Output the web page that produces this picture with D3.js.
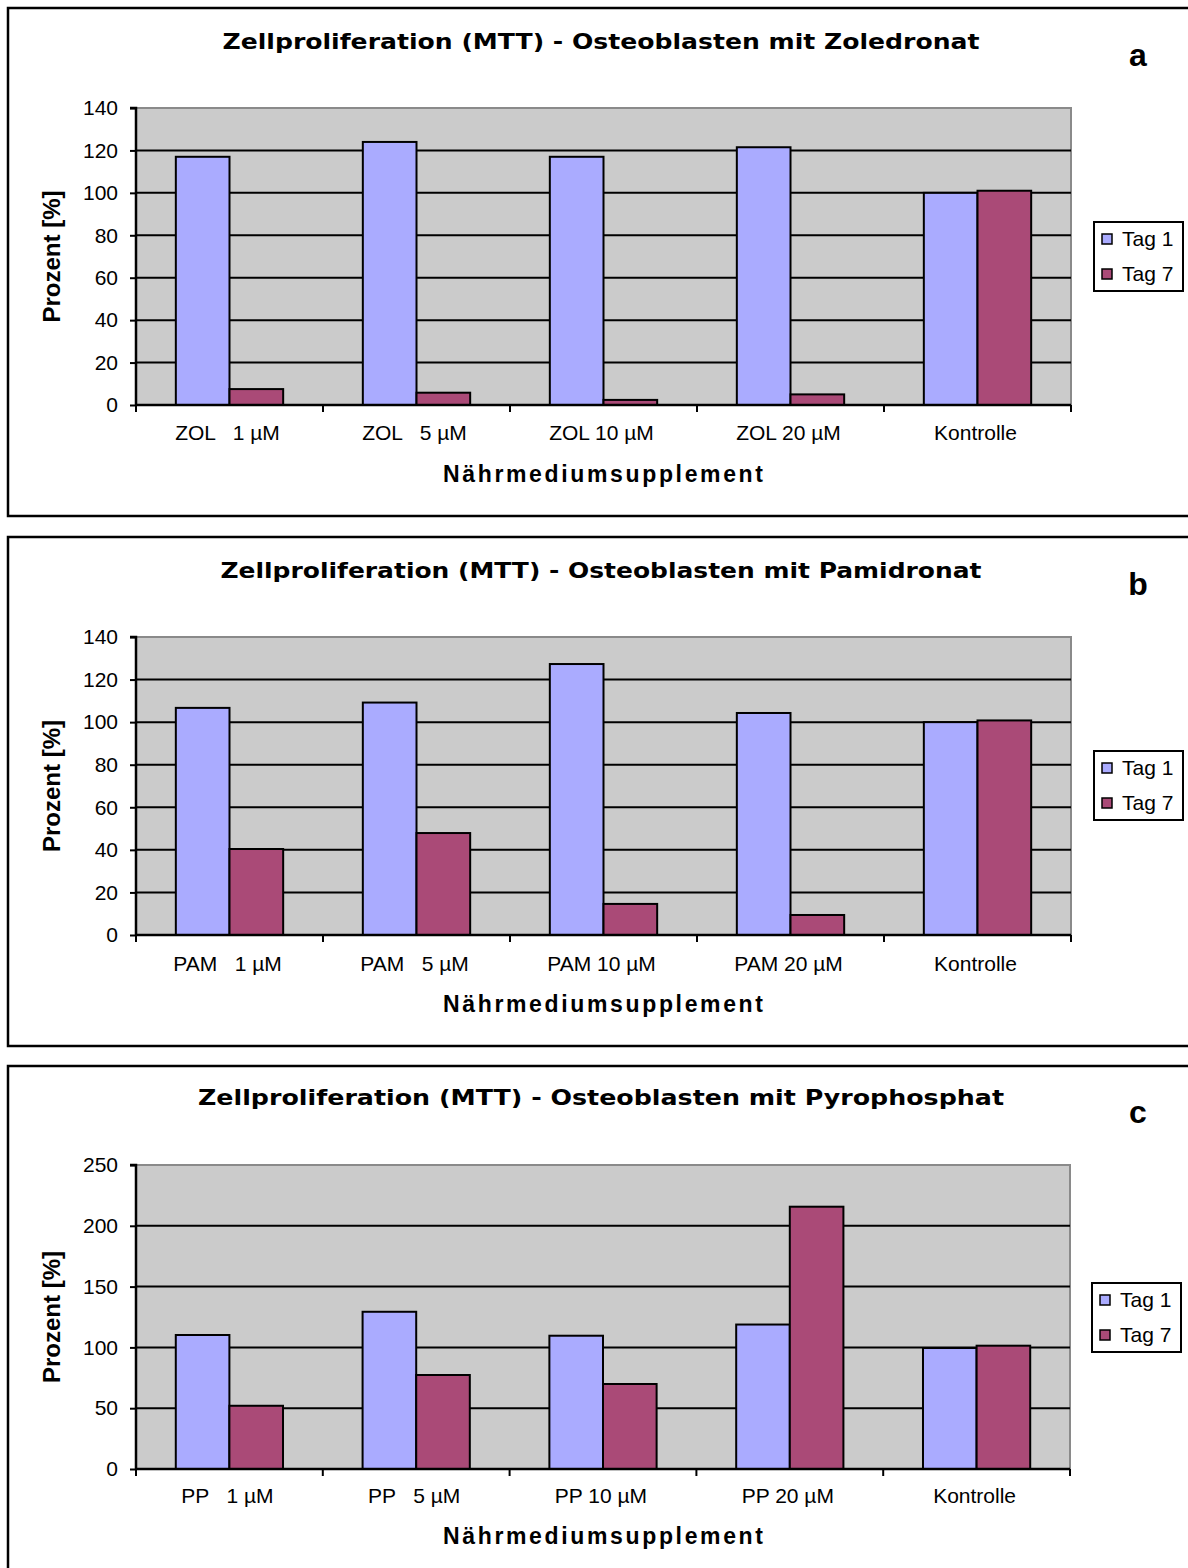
<!DOCTYPE html>
<html><head><meta charset="utf-8">
<script src="https://cdn.jsdelivr.net/npm/d3@7"></script>
<style>
html,body{margin:0;padding:0;background:#fff;}
svg text{white-space:pre;}
</style></head>
<body>
<svg id="chart" width="1188" height="1568"></svg>
<script>
// ---------- data ----------
const categoriesA = ["ZOL   1 µM", "ZOL   5 µM", "ZOL 10 µM", "ZOL 20 µM", "Kontrolle"];
const tag1A = [117, 124, 117, 121.5, 100];
const tag7A = [7.5, 5.8, 2.4, 5.0, 101];
const yTicksA = [0, 20, 40, 60, 80, 100, 120, 140];

const categoriesB = ["PAM   1 µM", "PAM   5 µM", "PAM 10 µM", "PAM 20 µM", "Kontrolle"];
const tag1B = [106.7, 109.2, 127.3, 104.3, 100];
const tag7B = [40.4, 47.9, 14.6, 9.4, 100.8];
const yTicksB = [0, 20, 40, 60, 80, 100, 120, 140];

const categoriesC = ["PP   1 µM", "PP   5 µM", "PP 10 µM", "PP 20 µM", "Kontrolle"];
const tag1C = [110.2, 129.3, 109.6, 118.8, 99.5];
const tag7C = [52, 77.3, 69.9, 215.7, 101.4];
const yTicksC = [0, 50, 100, 150, 200, 250];

const seriesNames = ["Tag 1", "Tag 7"];
const titles = [
  "Zellproliferation (MTT) - Osteoblasten mit Zoledronat",
  "Zellproliferation (MTT) - Osteoblasten mit Pamidronat",
  "Zellproliferation (MTT) - Osteoblasten mit Pyrophosphat"
];
const panelLetters = ["a", "b", "c"];
const xAxisTitle = "Nährmediumsupplement";
const yAxisTitle = "Prozent [%]";

// ---------- layout ----------
const colors = ["#aaabff", "#aa4a77"];
const panels = [
  {top: 8,    bottom: 516,  plotTop: 108,  plotBottom: 405,  plotLeft: 136, plotRight: 1071, titleY: 41,   letterY: 55,   legendTop: 222,  legendLeft: 1094, labelY: 433,  axisTitleY: 474,  titleW: 757,
   cats: categoriesA, s1: tag1A, s2: tag7A, ticks: yTicksA},
  {top: 537,  bottom: 1046, plotTop: 637,  plotBottom: 935,  plotLeft: 136, plotRight: 1071, titleY: 570,  letterY: 584,  legendTop: 751,  legendLeft: 1094, labelY: 964,  axisTitleY: 1004, titleW: 761,
   cats: categoriesB, s1: tag1B, s2: tag7B, ticks: yTicksB},
  {top: 1066, bottom: 1600, plotTop: 1165, plotBottom: 1469, plotLeft: 136, plotRight: 1070, titleY: 1097, letterY: 1112, legendTop: 1283, legendLeft: 1092, labelY: 1496, axisTitleY: 1536, titleW: 806,
   cats: categoriesC, s1: tag1C, s2: tag7C, ticks: yTicksC}
];

const svg = d3.select("#chart");
const sans = "Liberation Sans, Arial, sans-serif";

panels.forEach((p, i) => {
  const g = svg.append("g");
  // panel frame
  g.append("rect").attr("x", 8).attr("y", p.top).attr("width", 1200).attr("height", p.bottom - p.top)
    .attr("fill", "#fff").attr("stroke", "#000").attr("stroke-width", 2.5);

  const x0 = d3.scaleBand().domain(p.cats).range([p.plotLeft, p.plotRight]).paddingInner(0).paddingOuter(0);
  const bw = x0.bandwidth();
  const x1 = d3.scaleBand().domain(seriesNames).range([0.213 * bw, 0.787 * bw]).padding(0);
  const y = d3.scaleLinear().domain([0, d3.max(p.ticks)]).range([p.plotBottom, p.plotTop]);

  // plot area
  g.append("rect").attr("x", p.plotLeft).attr("y", p.plotTop)
    .attr("width", p.plotRight - p.plotLeft).attr("height", p.plotBottom - p.plotTop)
    .attr("fill", "#cbcbcb").attr("stroke", "#8a8a8a").attr("stroke-width", 2);

  // gridlines
  g.selectAll(".grid").data(p.ticks.filter(t => t > 0 && t < d3.max(p.ticks))).join("line")
    .attr("x1", p.plotLeft).attr("x2", p.plotRight)
    .attr("y1", d => y(d)).attr("y2", d => y(d))
    .attr("stroke", "#000").attr("stroke-width", 2);

  // bars
  const data = p.cats.map((c, k) => ({cat: c, vals: [p.s1[k], p.s2[k]]}));
  const grp = g.selectAll(".grp").data(data).join("g")
    .attr("transform", d => `translate(${x0(d.cat)},0)`);
  grp.selectAll("rect").data(d => d.vals.map((v, j) => ({s: seriesNames[j], v, j}))).join("rect")
    .attr("x", d => x1(d.s)).attr("width", x1.bandwidth())
    .attr("y", d => y(d.v)).attr("height", d => y(0) - y(d.v))
    .attr("fill", d => colors[d.j]).attr("stroke", "#000").attr("stroke-width", 2);

  // y axis
  const yAxis = d3.axisLeft(y).tickValues(p.ticks).tickSize(6).tickPadding(12);
  const ya = g.append("g").attr("transform", `translate(${p.plotLeft},0)`).call(yAxis);
  ya.select(".domain").attr("stroke", "#000").attr("stroke-width", 2.5).attr("d", `M-6,${p.plotTop}H0V${p.plotBottom}`);
  ya.selectAll(".tick line").attr("stroke", "#000").attr("stroke-width", 2);
  ya.selectAll(".tick text").attr("font-family", sans).attr("font-size", 21).attr("fill", "#000");

  // x axis
  const xa = g.append("g").attr("transform", `translate(0,${p.plotBottom})`);
  xa.append("line").attr("x1", p.plotLeft).attr("x2", p.plotRight).attr("y1", 0).attr("y2", 0)
    .attr("stroke", "#000").attr("stroke-width", 2.5);
  const bounds = p.cats.map(c => x0(c)).concat([p.plotRight]);
  xa.selectAll(".xt").data(bounds).join("line")
    .attr("x1", d => d).attr("x2", d => d).attr("y1", 0).attr("y2", 7)
    .attr("stroke", "#000").attr("stroke-width", 2);
  g.selectAll(".xl").data(p.cats).join("text")
    .attr("x", d => x0(d) + bw / 2 - 2).attr("y", p.labelY).attr("dy", "0.35em")
    .attr("text-anchor", "middle").attr("font-family", sans)
    .attr("font-size", 21).text(d => d);

  // axis titles
  g.append("text").attr("x", 603).attr("y", p.axisTitleY).attr("dy", "0.35em").attr("text-anchor", "middle")
    .attr("font-family", sans).attr("font-weight", "bold").attr("font-size", 23)
    .attr("textLength", 320).attr("lengthAdjust", "spacing").text(xAxisTitle);
  const yc = (p.plotTop + p.plotBottom) / 2;
  g.append("text").attr("transform", `translate(52,${yc}) rotate(-90)`).attr("dy", "0.35em")
    .attr("text-anchor", "middle").attr("font-family", "Liberation Sans Narrow, Liberation Sans, Arial, sans-serif")
    .attr("font-weight", "bold").attr("font-size", 24).text(yAxisTitle);

  // title
  g.append("text").attr("x", 601).attr("y", p.titleY).attr("dy", "0.35em").attr("text-anchor", "middle")
    .attr("font-family", "DejaVu Sans, Verdana, sans-serif").attr("font-weight", "bold").attr("font-size", 22)
    .attr("textLength", p.titleW).attr("lengthAdjust", "spacingAndGlyphs").text(titles[i]);

  // panel letter
  g.append("text").attr("x", 1138).attr("y", p.letterY).attr("dy", "0.35em").attr("text-anchor", "middle")
    .attr("font-family", sans).attr("font-weight", "bold").attr("font-size", 32)
    .text(panelLetters[i]);

  // legend
  const lg = g.append("g").attr("transform", `translate(${p.legendLeft},${p.legendTop})`);
  lg.append("rect").attr("width", 89).attr("height", 69).attr("fill", "#fff").attr("stroke", "#000").attr("stroke-width", 2);
  seriesNames.forEach((s, j) => {
    const yy = 17 + j * 35;
    lg.append("rect").attr("x", 8).attr("y", yy - 5).attr("width", 10).attr("height", 10)
      .attr("fill", colors[j]).attr("stroke", "#000").attr("stroke-width", 1.5);
    lg.append("text").attr("x", 28).attr("y", yy).attr("dy", "0.35em")
      .attr("font-family", sans).attr("font-size", 21).text(s);
  });
});
</script>
</body></html>
